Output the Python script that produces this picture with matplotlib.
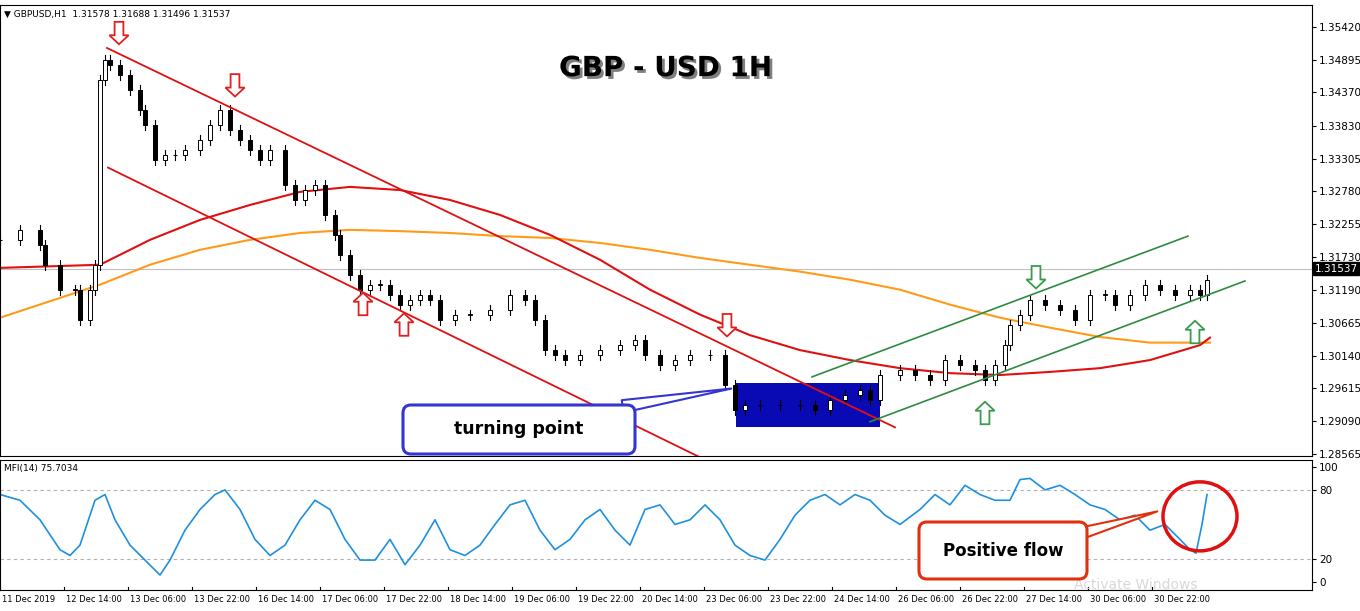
import matplotlib.pyplot as plt
from matplotlib.patches import Rectangle, FancyBboxPatch, Ellipse, Polygon
import matplotlib.patheffects as pe

# hourly bar index -> close price
bars = [0, 5, 10, 11.25, 15, 18.75, 20, 22.5, 23.75, 25, 26.25, 27.5, 30, 32.5, 35, 36.25, 38.75, 41.25, 43.75,
        46.25, 50, 52.5, 55, 57.5, 60, 62.5, 65, 67.5, 71.25, 73.75, 76.25, 78.75, 81.25, 83.75, 85, 87.5,
        90, 92.5, 95, 97.5, 100, 102.5, 105, 107.5, 110, 113.75, 117.5, 122.5, 127.5, 131.25, 133.75, 136.25,
        138.75, 141.25, 145, 150, 155, 158.75, 161.25, 165, 168.75, 172.5, 177.5, 181.25, 183.75, 186.25,
        190, 195, 200, 203.75, 207.5, 211.25, 215, 217.5, 220, 225, 228.75, 232.5, 236.25, 240, 243.75,
        246.25, 248.75, 251.25, 252.5, 255, 257.5, 261.25, 265, 268.75, 272.5, 276.25, 278.75, 282.5,
        286.25, 290, 293.75, 297.5, 300, 301.75]
closes = [1.3200, 1.3216, 1.3192, 1.3160, 1.3120, 1.3120, 1.3071, 1.3120, 1.3160, 1.3457, 1.3489, 1.3481,
          1.3465, 1.3441, 1.3409, 1.3385, 1.3328, 1.3336, 1.3336, 1.3344, 1.3361, 1.3385, 1.3409, 1.3377,
          1.3361, 1.3344, 1.3328, 1.3344, 1.3288, 1.3264, 1.3280, 1.3288, 1.3240, 1.3208, 1.3176, 1.3144,
          1.3120, 1.3128, 1.3128, 1.3112, 1.3096, 1.3104, 1.3112, 1.3104, 1.3071, 1.3080, 1.3080, 1.3088,
          1.3112, 1.3104, 1.3071, 1.3023, 1.3015, 1.3007, 1.3015, 1.3023, 1.3031, 1.3039, 1.3015, 1.2999,
          1.3007, 1.3015, 1.3015, 1.2967, 1.2927, 1.2935, 1.2935, 1.2935, 1.2935, 1.2927, 1.2943, 1.2951,
          1.2959, 1.2943, 1.2983, 1.2991, 1.2983, 1.2975, 1.3007, 1.2999, 1.2991, 1.2975, 1.2999, 1.3031,
          1.3063, 1.3080, 1.3104, 1.3096, 1.3088, 1.3071, 1.3112, 1.3112, 1.3096, 1.3112, 1.3128, 1.3120,
          1.3112, 1.3120, 1.3112, 1.3136, 1.3154]

ma_bars = [0, 25, 37.5, 50, 62.5, 75, 87.5, 100, 112.5, 125, 137.5, 150, 162.5, 175, 187.5, 200, 212.5,
           225, 237.5, 250, 262.5, 275, 287.5, 300, 302.5]
ma_red = [1.3155, 1.3160, 1.3200, 1.3232, 1.3256, 1.3277, 1.3285, 1.3280, 1.3264, 1.3240, 1.3208, 1.3168,
          1.3120, 1.3080, 1.3047, 1.3023, 1.3007, 1.2994, 1.2986, 1.2983, 1.2988, 1.2994, 1.3007, 1.3031, 1.3043]
ma_orange = [1.3075, 1.3128, 1.3160, 1.3184, 1.3200, 1.3211, 1.3216, 1.3214, 1.3211, 1.3206, 1.3203, 1.3195,
             1.3184, 1.3171, 1.3160, 1.3149, 1.3136, 1.3120, 1.3096, 1.3075, 1.3059, 1.3044, 1.3035, 1.3035, 1.3035]

mfi_bars = [0, 5, 10, 15, 17.5, 20, 23.75, 26.25, 28.75, 32.5, 36.25, 40, 42.5, 46.25, 50, 53.75, 56.25, 60,
            63.75, 67.5, 71.25, 75, 78.75, 82.5, 86.25, 90, 93.75, 97.5, 101.25, 105, 108.75, 112.5, 116.25,
            120, 123.75, 127.5, 131.25, 135, 138.75, 142.5, 146.25, 150, 153.75, 157.5, 161.25, 165, 168.75,
            172.5, 176.25, 180, 183.75, 187.5, 191.25, 195, 198.75, 202.5, 206.25, 210, 213.75, 217.5, 221.25,
            225, 230, 233.75, 237.5, 241.25, 245, 248.75, 252.5, 255, 257.5, 261.25, 265, 268.75, 272.5, 276.25,
            280, 283.75, 287.5, 291.25, 295, 297.5, 299, 300.5, 301.75]
mfi = [76, 71, 54, 28, 23, 32, 71, 76, 54, 32, 19, 6, 19, 45, 63, 76, 80, 63, 37, 23, 32, 54, 71, 63, 37,
       19, 19, 37, 15, 32, 54, 28, 23, 32, 50, 67, 71, 45, 28, 37, 54, 63, 45, 32, 63, 67, 50, 54, 67, 54,
       32, 23, 19, 37, 58, 71, 76, 67, 76, 71, 58, 50, 63, 76, 67, 84, 76, 71, 71, 89, 90, 80, 84, 76, 67,
       63, 54, 58, 45, 50, 37, 28, 25, 50, 76]

price_ticks = [1.35420, 1.34895, 1.34370, 1.33830, 1.33305, 1.32780, 1.32255, 1.31730,
               1.31190, 1.30665, 1.30140, 1.29615, 1.29090, 1.28565]
date_labels = ["11 Dec 2019", "12 Dec 14:00", "13 Dec 06:00", "13 Dec 22:00", "16 Dec 14:00",
               "17 Dec 06:00", "17 Dec 22:00", "18 Dec 14:00", "19 Dec 06:00", "19 Dec 22:00",
               "20 Dec 14:00", "23 Dec 06:00", "23 Dec 22:00", "24 Dec 14:00", "26 Dec 06:00",
               "26 Dec 22:00", "27 Dec 14:00", "30 Dec 06:00", "30 Dec 22:00"]
last_price = 1.31537

fig = plt.figure(figsize=(13.6, 6.11), dpi=100)
ax = fig.add_axes([0.0, 1 - 456 / 611, 1312 / 1360, 451 / 611])
ax2 = fig.add_axes([0.0, 1 - 590 / 611, 1312 / 1360, 130 / 611])
xmax = 328
for a in (ax, ax2):
    a.set_xlim(0, xmax)
    a.yaxis.tick_right()
    a.tick_params(axis='y', labelsize=7.5, length=3, pad=2)
    a.tick_params(axis='x', length=0)
    a.set_xticks([])

ax.set_ylim(1.2853, 1.3577)
ax.set_yticks(price_ticks)
ax.set_yticklabels(["%.5f" % p for p in price_ticks])
ax.axhline(last_price, color='#c0c0c0', lw=0.8)
ax.text(1.002, last_price, "%.5f" % last_price, transform=ax.get_yaxis_transform(), fontsize=7.5,
        color='white', va='center', ha='left', bbox=dict(fc='black', ec='black', pad=1))

# blue highlight box
ax.add_patch(Rectangle((184, 1.2900), 36, 0.0070, fc='#0a0ab4', ec='none', zorder=1))

# moving averages
ax.plot(ma_bars, ma_orange, color='#ff9a1a', lw=1.5, zorder=2)
ax.plot(ma_bars, ma_red, color='#e01010', lw=1.5, zorder=2)

# candles
prev = closes[0]
for b, c in zip(bars, closes):
    o = prev
    lo_, hi_ = min(o, c), max(o, c)
    ax.plot([b, b], [lo_ - 0.0008, hi_ + 0.0008], color='black', lw=0.8, zorder=3)
    ax.add_patch(Rectangle((b - 0.6, lo_), 1.2, max(hi_ - lo_, 0.00005),
                           fc='black' if c < o else 'white', ec='black', lw=0.7, zorder=4))
    prev = c

# trend channels
ax.plot([26.75, 223.75], [1.3508, 1.2899], color='#e01010', lw=1.3, zorder=5)
ax.plot([27, 176.25], [1.3316, 1.2847], color='#e01010', lw=1.3, zorder=5)
ax.plot([203, 297], [1.2980, 1.3206], color='#2e8b40', lw=1.2, zorder=5)
ax.plot([217.5, 311.25], [1.2908, 1.3134], color='#2e8b40', lw=1.2, zorder=5)

# hollow arrows
def arrow(x, y, down, color):
    d = -1 if down else 1
    h = 0.0036
    w1, w2 = 1.1, 2.4
    pts = [(x - w1, y - d * h), (x + w1, y - d * h), (x + w1, y - d * h * 0.4), (x + w2, y - d * h * 0.4),
           (x, y), (x - w2, y - d * h * 0.4), (x - w1, y - d * h * 0.4)]
    ax.add_patch(Polygon(pts, closed=True, fc='white', ec=color, lw=1.3, zorder=6))

for x, y in [(29.75, 1.3514), (58.75, 1.3430), (181.75, 1.3045)]:
    arrow(x, y, True, '#e02020')
for x, y in [(90.75, 1.3115), (101, 1.3082)]:
    arrow(x, y, False, '#e02020')
arrow(259, 1.3122, True, '#3a9a50')
for x, y in [(246.25, 1.2940), (298.75, 1.3070)]:
    arrow(x, y, False, '#3a9a50')

ax.text(0.507, 0.86, "GBP - USD 1H", transform=ax.transAxes, ha='center', va='center', fontsize=20,
        fontweight='bold', color='black',
        path_effects=[pe.withSimplePatchShadow(offset=(2, -2), alpha=0.5)])
ax.text(0.003, 0.99, "\u25BC GBPUSD,H1  1.31578 1.31688 1.31496 1.31537", transform=ax.transAxes,
        fontsize=6.5, va='top', ha='left')

# turning point callout (box placed in inches on the figure)
ax.annotate("", xy=(183.5, 1.2962), xytext=(155, 1.2932),
            arrowprops=dict(arrowstyle='wedge,tail_width=0.9', fc='white', ec='#3535d0', lw=1.5), zorder=7)
fig.patches.append(FancyBboxPatch((4.03, 1.57), 2.32, 0.49, boxstyle='round,pad=0,rounding_size=0.08',
                                  fc='white', ec='#3535d0', lw=2.2, transform=fig.dpi_scale_trans, zorder=8))
fig.text(5.19, 1.815, "turning point", ha='center', va='center', fontsize=12.5, fontweight='bold',
         transform=fig.dpi_scale_trans, zorder=9)

# MFI panel
ax2.set_ylim(-7, 106)
ax2.set_yticks([0, 20, 80, 100])
ax2.set_yticklabels(["0", "20", "80", "100"])
for lvl in (20, 80):
    ax2.axhline(lvl, color='#b0b0b0', lw=0.8, ls=(0, (3, 3)))
ax2.plot(mfi_bars, mfi, color='#1e90e0', lw=1.2)
ax2.text(0.003, 0.97, "MFI(14) 75.7034", transform=ax2.transAxes, fontsize=6.5, va='top')
ax2.add_patch(Ellipse((300, 57), 18.5, 60, fc='none', ec='#e01010', lw=2.5, zorder=5))
ax2.annotate("", xy=(290, 62), xytext=(268, 40),
             arrowprops=dict(arrowstyle='wedge,tail_width=0.9', fc='white', ec='#e03010', lw=1.5), zorder=6)
fig.patches.append(FancyBboxPatch((9.19, 0.32), 1.68, 0.57, boxstyle='round,pad=0,rounding_size=0.08',
                                  fc='white', ec='#e03010', lw=2.2, transform=fig.dpi_scale_trans, zorder=8))
fig.text(10.03, 0.605, "Positive flow", ha='center', va='center', fontsize=12, fontweight='bold',
         transform=fig.dpi_scale_trans, zorder=9)

# date labels
for i, lab in enumerate(date_labels):
    tx = i * 16
    ax2.plot([tx, tx], [-7, -4], color='black', lw=0.8, clip_on=False)
    ax2.text(tx + 0.4, -11, lab, fontsize=6.0, ha='left', va='top')

fig.text(0.79, 0.036, "Activate Windows", fontsize=10, color='#d8d8d8', zorder=0)
fig.savefig("out.png", dpi=100)
